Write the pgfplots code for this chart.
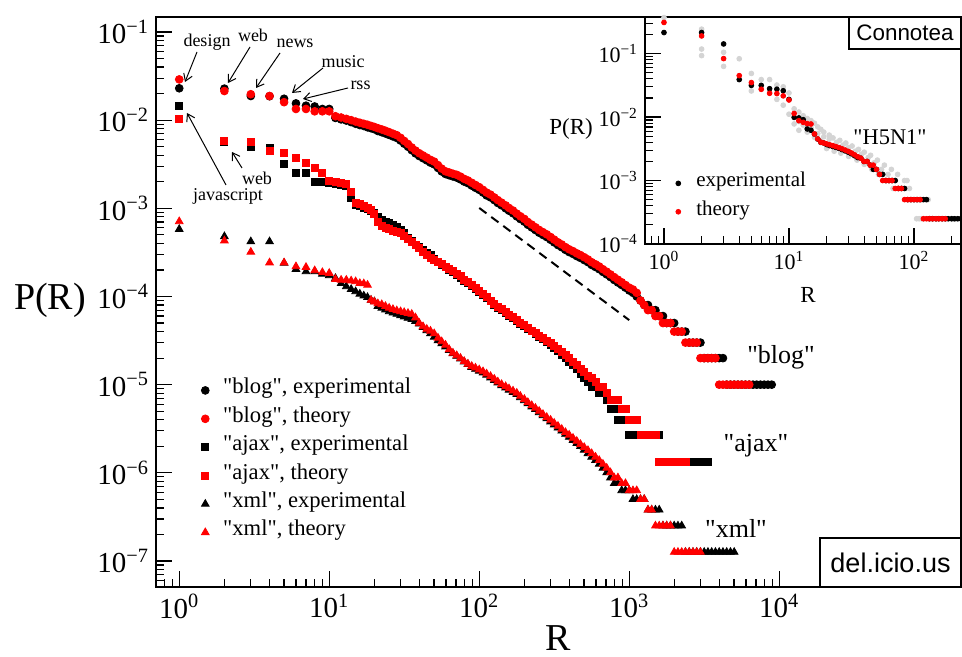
\documentclass[border=0pt]{standalone}
\usepackage{fontspec}
\setmainfont{Liberation Serif}[Ligatures=TeXOff]
\newfontfamily\helv{Liberation Sans}
\usepackage{pgfplots}
\usepackage{pgfplotstable}
\pgfplotsset{compat=1.18}
\usetikzlibrary{arrows.meta}
\definecolor{lgray}{RGB}{212,212,212}
\newcommand{\tenp}[1]{10\textsuperscript{#1}}

\pgfplotstableread{
R bt be at ae xt xe
1 0.029 0.023 0.0103 0.0145 7.1e-4 5.8e-4
2 0.0214 0.0228 0.0058 0.0056 4.3e-4 4.8e-4
3 0.0197 0.0188 0.0056 0.0050 3.2e-4 4.2e-4
4 0.0188 0.0187 0.0045 0.0048 2.42e-4 4.2e-4
5 0.0160 0.0175 0.0042 0.00316 2.42e-4 2.4e-4
6 0.0134 0.0155 0.0037 0.0025 2.19e-4 2.04e-4
7 0.0134 0.0146 0.0033 0.0025 2.15e-4 1.92e-4
8 0.0126 0.0143 0.00285 0.0020 1.97e-4 1.92e-4
9 0.0126 0.0134 0.00254 0.0020 1.88e-4 1.80e-4
10 0.0126 0.0134 0.00204 0.00195 1.84e-4 1.73e-4
11 0.01109 0.0106 0.0020 0.0019 1.57e-4 1.61e-4
12 0.01072 0.0102 0.00195 0.00185 1.54e-4 1.41e-4
13 0.01035 0.0099 0.0019 0.0018 1.54e-4 1.30e-4
14 0.0100 0.0095 0.00155 0.0013 1.51e-4 1.21e-4
15 0.00964 0.0091 0.00115 0.0011 1.48e-4 1.14e-4
16 0.00935 0.0088 0.00112 0.00107 1.41e-4 1.07e-4
17 0.0091 0.0086 0.00107 0.00102 1.40e-4 1.02e-4
18 0.00887 0.0083 0.00102 0.00098 1.35e-4 9.8e-5
19 0.00861 0.0081 0.00095 0.00093 9.1e-5 9.1e-5
20 0.00838 0.0079 0.00087 0.00089 8.7e-5 8.75e-5
21.1 0.00811 0.00754 7.08e-4 7.94e-4 8.32e-5 7.76e-5
22.4 0.00785 0.00730 6.31e-4 7.41e-4 8.13e-5 7.41e-5
23.7 0.00759 0.00706 6.03e-4 7.08e-4 7.76e-5 7.08e-5
25.1 0.00731 0.00680 5.82e-4 6.76e-4 7.41e-5 6.76e-5
26.6 0.00703 0.00654 5.62e-4 6.46e-4 7.16e-5 6.53e-5
28.2 0.00676 0.00629 5.43e-4 6.17e-4 6.92e-5 6.31e-5
29.9 0.00631 0.00587 5.25e-4 5.75e-4 6.76e-5 6.10e-5
31.6 0.00582 0.00541 4.90e-4 5.25e-4 6.61e-5 5.89e-5
33.5 0.00537 0.00499 4.47e-4 4.68e-4 6.46e-5 5.69e-5
35.5 0.00490 0.00456 4.17e-4 4.27e-4 6.31e-5 5.50e-5
37.6 0.00452 0.00420 3.85e-4 3.89e-4 5.75e-5 5.25e-5
39.8 0.00422 0.00392 3.55e-4 3.63e-4 5.01e-5 4.90e-5
42.2 0.00398 0.00370 3.24e-4 3.39e-4 4.57e-5 4.47e-5
44.7 0.00376 0.00350 2.95e-4 3.16e-4 4.27e-5 4.12e-5
47.3 0.00355 0.00330 2.75e-4 2.95e-4 4.07e-5 3.80e-5
50.1 0.00339 0.00315 2.57e-4 2.69e-4 3.80e-5 3.47e-5
53.1 0.00309 0.00287 2.45e-4 2.45e-4 3.39e-5 3.16e-5
56.2 0.00282 0.00262 2.32e-4 2.26e-4 3.09e-5 2.92e-5
59.6 0.00263 0.00245 2.19e-4 2.14e-4 2.82e-5 2.69e-5
63.1 0.00255 0.00237 2.04e-4 2.00e-4 2.51e-5 2.45e-5
66.8 0.00247 0.00230 1.93e-4 1.88e-4 2.29e-5 2.26e-5
70.8 0.00240 0.00223 1.82e-4 1.76e-4 2.14e-5 2.11e-5
75.0 0.00229 0.00213 1.70e-4 1.64e-4 2.00e-5 1.97e-5
79.4 0.00216 0.00201 1.55e-4 1.51e-4 1.84e-5 1.82e-5
84.1 0.00207 0.00193 1.45e-4 1.41e-4 1.72e-5 1.70e-5
89.1 0.00195 0.00181 1.35e-4 1.32e-4 1.62e-5 1.58e-5
94.4 0.00184 0.00171 1.245e-4 1.22e-4 1.55e-5 1.50e-5
100 0.00174 0.00162 1.15e-4 1.12e-4 1.48e-5 1.43e-5
106 0.00162 0.00151 1.06e-4 1.035e-4 1.41e-5 1.365e-5
112 0.00151 0.00140 9.77e-5 9.55e-5 1.33e-5 1.29e-5
119 0.00143 0.00133 9.02e-5 8.81e-5 1.245e-5 1.20e-5
126 0.00133 0.00124 8.32e-5 8.13e-5 1.16e-5 1.12e-5
133 0.00124 0.00115 7.67e-5 7.50e-5 1.08e-5 1.05e-5
141 0.00116 0.00108 7.16e-5 7.00e-5 1.01e-5 9.77e-6
150 0.00108 0.00100 6.68e-5 6.53e-5 9.55e-6 9.23e-6
158 0.00101 9.39e-4 6.24e-5 6.10e-5 9.02e-6 8.71e-6
168 9.44e-4 8.78e-4 5.82e-5 5.69e-5 8.51e-6 8.22e-6
178 8.71e-4 8.10e-4 5.43e-5 5.31e-5 8.04e-6 7.76e-6
188 8.13e-4 7.56e-4 5.07e-5 4.95e-5 7.41e-6 7.16e-6
200 7.59e-4 7.06e-4 4.73e-5 4.62e-5 6.84e-6 6.61e-6
211 7.00e-4 6.51e-4 4.42e-5 4.32e-5 6.31e-6 6.10e-6
224 6.53e-4 6.07e-4 4.12e-5 4.03e-5 5.82e-6 5.62e-6
237 6.10e-4 5.67e-4 3.85e-5 3.76e-5 5.43e-6 5.25e-6
251 5.69e-4 5.29e-4 3.59e-5 3.51e-5 5.01e-6 4.84e-6
266 5.37e-4 4.99e-4 3.35e-5 3.27e-5 4.62e-6 4.47e-6
282 5.07e-4 4.72e-4 3.16e-5 3.05e-5 4.27e-6 4.12e-6
299 4.73e-4 4.40e-4 2.95e-5 2.82e-5 3.98e-6 3.80e-6
316 4.42e-4 4.11e-4 2.75e-5 2.60e-5 3.67e-6 3.51e-6
335 4.12e-4 3.83e-4 2.57e-5 2.40e-5 3.39e-6 3.24e-6
355 3.89e-4 3.62e-4 2.37e-5 2.19e-5 3.13e-6 2.99e-6
376 3.63e-4 3.38e-4 2.16e-5 2.00e-5 2.88e-6 2.75e-6
398 3.43e-4 3.19e-4 2.00e-5 1.82e-5 2.69e-6 2.54e-6
422 3.27e-4 3.04e-4 1.82e-5 1.66e-5 2.48e-6 2.34e-6
447 3.09e-4 2.87e-4 1.66e-5 1.51e-5 2.29e-6 2.16e-6
473 2.95e-4 2.74e-4 1.51e-5 1.34e-5 2.11e-6 2.00e-6
501 2.79e-4 2.59e-4 1.38e-5 1.205e-5 1.95e-6 1.82e-6
531 2.63e-4 2.45e-4 1.26e-5 1.07e-5 1.80e-6 1.66e-6
562 2.45e-4 2.28e-4 1.20e-5 9.38e-6 1.66e-6 1.514e-6
596 2.32e-4 2.16e-4 1.07e-5 9.38e-6 1.514e-6 1.387e-6
631 2.19e-4 2.04e-4 9.38e-6 8.04e-6 1.387e-6 1.259e-6
668 2.04e-4 1.90e-4 9.38e-6 8.04e-6 1.259e-6 1.135e-6
708 1.91e-4 1.78e-4 8.04e-6 6.7e-6 1.135e-6 1.007e-6
750 1.78e-4 1.66e-4 6.7e-6 5.36e-6 1.007e-6 8.81e-7
794 1.66e-4 1.54e-4 6.7e-6 5.36e-6 8.81e-7 7.59e-7
841 1.55e-4 1.44e-4 6.7e-6 4.02e-6 8.81e-7 7.59e-7
891 1.45e-4 1.35e-4 5.36e-6 4.02e-6 7.59e-7 6.31e-7
944 1.35e-4 1.26e-4 5.36e-6 4.02e-6 7.59e-7 6.31e-7
1000 1.26e-4 1.17e-4 4.02e-6 2.68e-6 6.31e-7 6.31e-7
1059 1.2e-4 1.1e-4 4.02e-6 2.68e-6 6.31e-7 5.01e-7
1122 1.1e-4 1.0e-4 4.02e-6 2.68e-6 6.31e-7 5.01e-7
1189 9e-5 9e-5 2.68e-6 2.68e-6 5.01e-7 5.01e-7
1259 8e-5 8e-5 2.68e-6 2.68e-6 5.01e-7 5.01e-7
1334 7e-5 8e-5 2.68e-6 2.68e-6 3.80e-7 3.80e-7
1413 7e-5 7e-5 2.68e-6 2.68e-6 3.80e-7 3.80e-7
1496 6e-5 7e-5 2.68e-6 2.68e-6 2.51e-7 3.80e-7
1585 6e-5 6e-5 1.34e-6 2.68e-6 2.51e-7 3.80e-7
1679 5e-5 6e-5 1.34e-6 1.34e-6 2.51e-7 2.51e-7
1778 5e-5 5e-5 1.34e-6 1.34e-6 2.51e-7 2.51e-7
1884 5e-5 5e-5 1.34e-6 1.34e-6 2.51e-7 2.51e-7
1995 4e-5 5e-5 1.34e-6 1.34e-6 1.26e-7 2.51e-7
2113 4e-5 4e-5 1.34e-6 1.34e-6 1.26e-7 2.51e-7
2239 4e-5 4e-5 1.34e-6 1.34e-6 1.26e-7 2.51e-7
2371 3e-5 4e-5 1.34e-6 1.34e-6 1.26e-7 1.26e-7
2512 3e-5 3e-5 nan 1.34e-6 1.26e-7 1.26e-7
2661 3e-5 3e-5 nan 1.34e-6 1.26e-7 1.26e-7
2818 3e-5 3e-5 nan 1.34e-6 1.26e-7 1.26e-7
2985 2e-5 3e-5 nan 1.34e-6 1.26e-7 1.26e-7
3162 2e-5 2e-5 nan 1.34e-6 nan 1.26e-7
3350 2e-5 2e-5 nan 1.34e-6 nan 1.26e-7
3548 2e-5 2e-5 nan nan nan 1.26e-7
3758 2e-5 2e-5 nan nan nan 1.26e-7
3981 1e-5 2e-5 nan nan nan 1.26e-7
4217 1e-5 2e-5 nan nan nan 1.26e-7
4467 1e-5 1e-5 nan nan nan 1.26e-7
4732 1e-5 1e-5 nan nan nan 1.26e-7
5012 1e-5 1e-5 nan nan nan 1.26e-7
5309 1e-5 1e-5 nan nan nan nan
5623 1e-5 1e-5 nan nan nan nan
5957 1e-5 1e-5 nan nan nan nan
6310 1e-5 1e-5 nan nan nan nan
6683 nan 1e-5 nan nan nan nan
7079 nan 1e-5 nan nan nan nan
7499 nan 1e-5 nan nan nan nan
7943 nan 1e-5 nan nan nan nan
8414 nan 1e-5 nan nan nan nan
8913 nan 1e-5 nan nan nan nan
}\deltab

\pgfplotstableread{
R ie it
1 0.215 0.31
2 0.215 0.19
3 0.142 0.0835
4 0.039 0.045
5 0.0316 0.035
6 0.0316 0.0274
7 0.028 0.0237
8 0.0275 0.0235
9 0.026 0.0216
10 0.019 0.0186
11 0.0099 0.0114
12 0.0097 0.00877
13 0.0091 0.00826
14 0.0065 0.0079
15 0.0062 0.00778
16 0.0054 0.00542
17 0.0045 0.00453
18 0.0040 0.00402
19 0.0039 0.0039
20 0.0037 0.00378
21.1 0.00356 0.00367
22.4 0.00344 0.00355
23.7 0.00333 0.00343
25.1 0.00321 0.00331
26.6 0.00307 0.00316
28.2 0.00293 0.00302
29.9 0.00279 0.00288
31.6 0.00264 0.00272
33.5 0.00246 0.00254
35.5 0.0023 0.00237
37.6 0.00225 0.00225
39.8 0.002 0.002
42.2 0.002 0.002
44.7 0.00175 0.00175
47.3 0.0015 0.00175
50.1 0.0015 0.0015
53.1 0.00125 0.00125
56.2 0.00125 0.001
59.6 0.001 0.001
63.1 0.001 0.001
66.8 0.001 0.001
70.8 0.001 7.5e-4
75.0 7.5e-4 7.5e-4
79.4 7.5e-4 7.5e-4
84.1 7.5e-4 5e-4
89.1 5e-4 5e-4
94.4 5e-4 5e-4
100 5e-4 5e-4
106 5e-4 5e-4
112 5e-4 5e-4
119 5e-4 2.5e-4
126 5e-4 2.5e-4
133 2.5e-4 2.5e-4
141 2.5e-4 2.5e-4
150 2.5e-4 2.5e-4
158 2.5e-4 2.5e-4
168 2.5e-4 2.5e-4
178 2.5e-4 2.5e-4
188 2.5e-4 nan
200 2.5e-4 nan
211 2.5e-4 nan
224 2.5e-4 nan
237 2.5e-4 nan
}\contab

\pgfplotstableread{
R P
1 0.37
2 0.243
2 0.118
2 0.093
3 0.105
3 0.063
4 0.083
5 0.0487
5 0.0258
6 0.039
6 0.028
7 0.039
7 0.0245
8 0.032
8 0.019
9 0.0154
9 0.030
10 0.0111
10 0.024
11 0.0078
11 0.0135
12 0.0085
12 0.0120
13 0.0075
13 0.0105
14 0.0071
14 0.0095
15 0.0068
15 0.0088
16 0.0080
17 0.0055
17 0.0070
18 0.0064
19 0.0049
19 0.0058
21 0.0045
21 0.0052
22.5 0.0047
24 0.0040
25.5 0.0043
27 0.0036
28.5 0.0039
30 0.0033
32 0.0035
34 0.0029
36 0.0031
38 0.0026
40 0.0028
43 0.0023
45 0.0025
48 0.0019
51 0.0021
55 0.0015
58 0.00175
62 0.00125
66 0.0015
70 0.001
74 0.00125
80 7.5e-4
84 0.001
88 0.001
12 0.0062
14 0.0058
16 0.0048
18 0.0042
20 0.0032
23 0.0029
26 0.0027
30 0.0024
35 0.0021
40 0.0018
46 0.0015
52 0.00125
60 0.001
68 7.5e-4
92 7.5e-4
95 5e-4
105 5e-4
115 5e-4
125 5e-4
130 5e-4
105 2.5e-4
110 2.5e-4
115 2.5e-4
120 2.5e-4
205 2.5e-4
215 2.5e-4
}\graytab

\begin{document}
\begin{tikzpicture}[x=1pt,y=1pt]
\path[use as bounding box] (0pt,0pt) rectangle (481pt,328.5pt);
\begin{axis}[
  at={(78pt,35pt)}, anchor=south west, scale only axis,
  width=402.5pt, height=285pt,
  xmode=log, ymode=log,
  xmin=0.70, xmax=1.63e5, ymin=5.07e-8, ymax=0.148,
  axis line style={line width=0.85pt},
  every tick/.style={black, line width=0.6pt},
  tick align=inside, xtick pos=left, ytick pos=left,
  major tick length=8pt, minor tick length=4pt,
  xtick={1,10,100,1000,10000},
  xticklabels={\tenp{0},\tenp{1},\tenp{2},\tenp{3},\tenp{4}},
  minor xtick={0.7,0.8,0.9,2,3,4,5,6,7,8,9,20,30,40,50,60,70,80,90,200,300,400,500,600,700,800,900,2000,3000,4000,5000,6000,7000,8000,9000},
  ytick={1e-7,1e-6,1e-5,1e-4,1e-3,1e-2,1e-1},
  yticklabels={\tenp{−7},\tenp{−6},\tenp{−5},\tenp{−4},\tenp{−3},\tenp{−2},\tenp{−1}},
  minor ytick={6e-8,7e-8,8e-8,9e-8,2e-7,3e-7,4e-7,5e-7,6e-7,7e-7,8e-7,9e-7,2e-6,3e-6,4e-6,5e-6,6e-6,7e-6,8e-6,9e-6,2e-5,3e-5,4e-5,5e-5,6e-5,7e-5,8e-5,9e-5,2e-4,3e-4,4e-4,5e-4,6e-4,7e-4,8e-4,9e-4,2e-3,3e-3,4e-3,5e-3,6e-3,7e-3,8e-3,9e-3,2e-2,3e-2,4e-2,5e-2,6e-2,7e-2,8e-2,9e-2},
  ticklabel style={font=\fontsize{14.5}{14.5}\selectfont},
  xlabel={R}, ylabel={P(R)},
  label style={font=\fontsize{19}{19}\selectfont},
  xlabel style={at={(axis description cs:0.5,-0.0895)}, anchor=center},
  ylabel style={at={(axis description cs:-0.1317,0.5035)}, anchor=center, rotate=-90},
  legend image code/.code={\draw[#1] plot coordinates {(0pt,0pt)};},
  legend cell align=left,
  legend style={draw=none, fill=none, at={(axis description cs:0.0559,0.364)}, anchor=north west,
    inner sep=0pt, row sep=3.7pt, column sep=7pt,
    font=\fontsize{11.3}{11.3}\selectfont,
    nodes={inner sep=0pt, text height=7pt, text depth=3.5pt}},
]
\addplot[only marks, mark=*, mark size=1.95pt, black] table[x=R,y=be]{\deltab};
\addlegendentry{"blog", experimental}
\addplot[only marks, mark=*, mark size=1.95pt, red] table[x=R,y=bt]{\deltab};
\addlegendentry{"blog", theory}
\addplot[only marks, mark=square*, mark size=1.75pt, black] table[x=R,y=ae]{\deltab};
\addlegendentry{"ajax", experimental}
\addplot[only marks, mark=square*, mark size=1.75pt, red] table[x=R,y=at]{\deltab};
\addlegendentry{"ajax", theory}
\addplot[only marks, mark=triangle*, mark size=2.2pt, black] table[x=R,y=xe]{\deltab};
\addlegendentry{"xml", experimental}
\addplot[only marks, mark=triangle*, mark size=2.2pt, red] table[x=R,y=xt]{\deltab};
\addlegendentry{"xml", theory}
\addplot[black, line width=1pt, dash pattern=on 4.5pt off 3pt, forget plot] coordinates {(100,1.01e-3) (1000,5.4e-5)};
\end{axis}

\begin{axis}[
  at={(322.5pt,206.5pt)}, anchor=south west, scale only axis,
  width=158pt, height=113.5pt,
  xmode=log, ymode=log,
  xmin=0.705, xmax=238, ymin=1e-4, ymax=0.378,
  axis background/.style={fill=white},
  axis line style={line width=0.85pt},
  every tick/.style={black, line width=0.6pt},
  tick align=inside, xtick pos=left, ytick pos=left,
  major tick length=8pt, minor tick length=4pt,
  xtick={1,10,100},
  xticklabels={\tenp{0},\tenp{1},\tenp{2}},
  minor xtick={0.8,0.9,2,3,4,5,6,7,8,9,20,30,40,50,60,70,80,90,200},
  ytick={1e-4,1e-3,1e-2,1e-1},
  yticklabels={\tenp{−4},\tenp{−3},\tenp{−2},\tenp{−1}},
  minor ytick={2e-4,3e-4,4e-4,5e-4,6e-4,7e-4,8e-4,9e-4,2e-3,3e-3,4e-3,5e-3,6e-3,7e-3,8e-3,9e-3,2e-2,3e-2,4e-2,5e-2,6e-2,7e-2,8e-2,9e-2,2e-1,3e-1},
  ticklabel style={font=\fontsize{11}{11}\selectfont},
  xlabel={R}, ylabel={P(R)},
  label style={font=\fontsize{11.5}{11.5}\selectfont},
  xlabel style={at={(axis description cs:0.5158,-0.2247)}, anchor=center},
  ylabel style={at={(axis description cs:-0.234,0.5066)}, anchor=center, rotate=-90},
  legend image code/.code={\draw[#1] plot coordinates {(0pt,0pt)};},
  legend cell align=left,
  legend style={draw=none, fill=none, at={(axis description cs:0.0965,0.315)}, anchor=north west,
    inner sep=0pt, row sep=3.7pt, column sep=7.8pt,
    font=\fontsize{10.5}{10.5}\selectfont,
    nodes={inner sep=0pt, text height=7pt, text depth=3.5pt}},
]
\addplot[only marks, mark=*, mark size=1.2pt, lgray, forget plot] table[x=R,y=P]{\graytab};
\addplot[only marks, mark=*, mark size=1.2pt, black] table[x=R,y=ie]{\contab};
\addlegendentry{experimental}
\addplot[only marks, mark=*, mark size=1.2pt, red] table[x=R,y=it]{\contab};
\addlegendentry{theory}
\end{axis}

% boxes
\draw[line width=0.85pt, fill=white] (410pt,35pt) rectangle (480.5pt,59.5pt);
\node[font=\helv\fontsize{13.5}{13.5}\selectfont] at (445.25pt,47.25pt) {del.icio.us};
\draw[line width=0.85pt, fill=white] (424.5pt,304pt) rectangle (480.5pt,320pt);
\node[font=\helv\fontsize{11.2}{11.2}\selectfont] at (452.5pt,312pt) {Connotea};

% labels
\node[font=\fontsize{11.2}{11.2}\selectfont] at (445pt,260pt) {"H5N1"};
\node[font=\fontsize{13}{13}\selectfont] at (390.5pt,150pt) {"blog"};
\node[font=\fontsize{13}{13}\selectfont] at (378pt,105.5pt) {"ajax"};
\node[font=\fontsize{13}{13}\selectfont] at (368pt,64.5pt) {"xml"};

% annotations
\begin{scope}[font=\fontsize{9}{9}\selectfont, every node/.style={inner sep=0pt}]
\node at (103.5pt,307.5pt) {design};
\node at (126.5pt,311pt) {web};
\node at (147.5pt,307pt) {news};
\node at (171.5pt,297.5pt) {music};
\node at (180.25pt,286pt) {rss};
\node at (114pt,230.5pt) {javascript};
\node at (128.5pt,239.5pt) {web};
\end{scope}
\begin{scope}[line width=0.5pt, -{Straight Barb[length=3.5pt,width=4.5pt]}]
\draw (98.5pt,302.5pt) -- (92.5pt,287.5pt);
\draw (125pt,305pt) -- (114pt,287pt);
\draw (140pt,302pt) -- (128pt,284.5pt);
\draw (161.5pt,294.5pt) -- (146pt,282pt);
\draw (174pt,284.5pt) -- (151.5pt,279pt);
\draw (113pt,236pt) -- (93.5pt,272pt);
\draw (121pt,244.5pt) -- (116pt,252.5pt);
\end{scope}
\end{tikzpicture}
\end{document}
